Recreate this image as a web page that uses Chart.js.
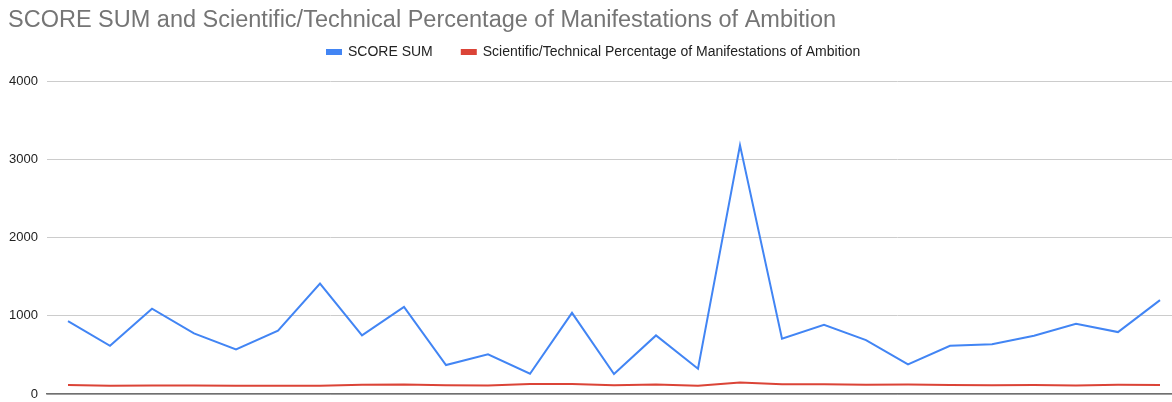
<!DOCTYPE html>
<html>
<head>
<meta charset="utf-8">
<script src="https://cdn.jsdelivr.net/npm/chart.js@4.4.0/dist/chart.umd.min.js"></script>
<style>
  html, body { margin: 0; padding: 0; background: #fff; overflow: hidden; }
  #wrap { width: 1181px; height: 402px; }
</style>
</head>
<body>
<div id="wrap"><canvas id="score-chart" width="1181" height="402"></canvas></div>
<script>
const chartEl = document.querySelector("#score-chart");

// 27 entries, x axis has no labels in the original
const categories = Array.from({ length: 27 }, (_, i) => String(i + 1));

const scoreSum = [
  932, 617, 1090, 775, 571, 809, 1413, 749, 1115, 370,
  507, 259, 1038, 255, 749, 323, 3180, 706, 885, 690,
  379, 617, 635, 745, 898, 792, 1200
];

const sciTechPct = [
  115, 105, 110, 108, 105, 105, 105, 118, 122, 112,
  110, 128, 128, 112, 120, 106, 148, 125, 125, 118,
  122, 115, 113, 114, 110, 118, 115
];

const yTicks = [0, 1000, 2000, 3000, 4000];

const seriesNames = [
  "SCORE SUM",
  "Scientific/Technical Percentage of Manifestations of Ambition"
];
const colors = ["#4285f4", "#db4437"];

const FONT = "Arial, 'Liberation Sans', sans-serif";

//moves title and legend so they sit where the original ones do
const headerShift = {
  id: "headerShift",
  afterLayout(chart) {
    const t = chart.titleBlock;
    if (t) {
      t.top += 6;
      t.bottom += 6;
    }
    const lg = chart.legend;
    if (!lg || !lg.lineWidths) return;
    const pad = lg.options.labels.padding;
    const start = (lg.left + pad + lg.right - lg.lineWidths[0]) / 2;
    const dx = 327 - start;
    lg.left += dx;
    lg.right += dx;
    lg.top -= 12.2;
    lg.bottom -= 12.2;
  }
};

const renderChart = () => {
  const chartData = {
    labels: categories,
    datasets: [
      {
        label: seriesNames[0],
        data: scoreSum,
        borderColor: colors[0],
        backgroundColor: colors[0],
        borderWidth: 2,
        pointRadius: 0,
        tension: 0,
      },
      {
        label: seriesNames[1],
        data: sciTechPct,
        borderColor: colors[1],
        backgroundColor: colors[1],
        borderWidth: 2,
        pointRadius: 0,
        tension: 0,
      },
    ],
  };

  new Chart(chartEl, {
    type: "line",
    data: chartData,
    plugins: [headerShift],
    options: {
      responsive: false,
      animation: false,
      layout: { padding: { left: 8, right: 0, top: 0, bottom: 8 } },
      plugins: {
        title: {
          display: true,
          text: "SCORE SUM and Scientific/Technical Percentage of Manifestations of Ambition",
          align: "start",
          color: "#757575",
          font: { family: FONT, size: 23.5, weight: "normal" },
          padding: { top: 0, bottom: 0 },
        },
        legend: {
          display: true,
          position: "top",
          align: "center",
          labels: {
            color: "#222",
            font: { family: FONT, size: 14 },
            boxWidth: 14,
            boxHeight: 4,
            padding: 29,
          },
        },
        tooltip: { enabled: false },
      },
      scales: {
        x: {
          offset: true,
          afterFit: (scale) => {
            scale.height = 0;
          },
          ticks: { display: false },
          grid: { display: false, drawTicks: false },
          border: { display: true, color: "#707070", width: 1.5 },
        },
        y: {
          min: 0,
          max: 4000,
          afterBuildTicks: (scale) => {
            scale.ticks = yTicks.map((v) => ({ value: v }));
          },
          // fixed width, and drop the extra room the tick padding asks for at the ends
          afterFit: (scale) => {
            scale.width = 39;
            scale.paddingTop = 0;
            scale.paddingBottom = 0;
          },
          ticks: {
            color: "#222",
            font: { family: FONT, size: 13 },
            padding: 9,
            callback: (v) => String(v),
          },
          grid: { color: "#cccccc", drawTicks: false },
          border: { display: false },
        },
      },
    },
  });
};

document.addEventListener("DOMContentLoaded", function () {
  renderChart();
});
</script>
</body>
</html>
